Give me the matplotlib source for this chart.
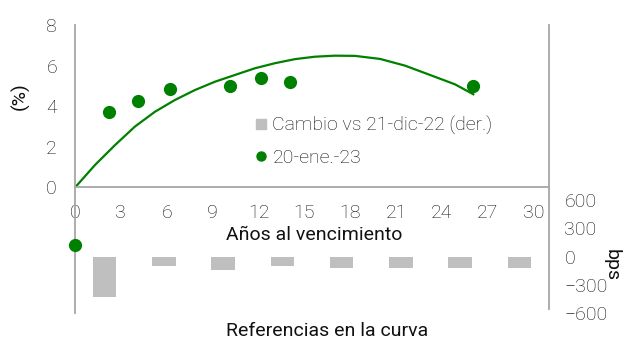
import numpy as np
import matplotlib.pyplot as plt
from matplotlib.lines import Line2D

plt.rcParams['font.family'] = ['Roboto', 'DejaVu Sans']
plt.rcParams['font.weight'] = 'light'
plt.rcParams['font.size'] = 14

green = '#008000'
bar_grey = '#bfbfbf'
axis_grey = '#a6a6a6'
txt = '#111111'

# yields at 20-ene.-23 (years to maturity, %)
mat_years = [2.24, 4.10, 6.21, 10.14, 12.16, 14.08, 26.05]
yields = [3.73, 4.28, 4.85, 5.00, 5.41, 5.20, 5.01]

# fitted curve, read along its path
curve_x = [0, 1.31, 2.62, 3.92, 5.23, 6.54, 7.85, 9.16, 10.46, 11.77, 13.08,
           14.39, 15.70, 17.0, 18.31, 19.95, 21.58, 23.22, 24.85, 26.05]
curve_y = [0, 1.11, 2.09, 3.0, 3.73, 4.31, 4.80, 5.21, 5.54, 5.87, 6.12,
           6.32, 6.44, 6.49, 6.48, 6.33, 6.0, 5.54, 5.08, 4.59]

# change vs 21-dic-22 in bps, one bar per reference bond
change_bps = [-425, -96, -145, -103, -117, -117, -117, -117]
dot_bps = 120

fig = plt.figure(figsize=(6.3, 3.41), dpi=100)
ax = fig.add_axes([75/630, 1-187.5/341, 474/630, 162.5/341])
axb = fig.add_axes([75/630, 1-313/341, 474/630, 125.5/341])

# top panel: curve and dots
ax.plot(curve_x, curve_y, color=green, lw=1.6, zorder=2)
ax.plot(mat_years, yields, 'o', color=green, ms=9.5, mec='none', zorder=3)
ax.set_xlim(0, 31)
ax.set_ylim(0, 8)
ax.set_xticks(np.arange(0, 31, 3))
ax.set_yticks(np.arange(0, 9, 2))
ax.tick_params(length=0, colors=txt, labelsize=14)
ax.tick_params(axis='y', pad=13)
ax.tick_params(axis='x', pad=12)
ax.spines['top'].set_visible(False)
for s in ['left', 'bottom', 'right']:
    ax.spines[s].set_color(axis_grey)
    ax.spines[s].set_linewidth(1.3)
ax.set_xlabel('Años al vencimiento', color=txt)
ax.xaxis.set_label_coords((314-75)/474, -0.24)
ax.set_ylabel('(%)', color=txt)
ax.yaxis.set_label_coords(-45/474, 0.56)

handles = [Line2D([], [], marker='s', color=bar_grey, ls='none', ms=7.5),
           Line2D([], [], marker='o', color=green, ls='none', ms=6.5)]
ax.legend(handles, ['Cambio vs 21-dic-22 (der.)', '20-ene.-23'],
          loc='upper left', bbox_to_anchor=(255/630, 1-116/341),
          bbox_transform=fig.transFigure, frameon=False, handlelength=0.6,
          handletextpad=0.3, labelspacing=0.72, borderpad=0,
          borderaxespad=0, fontsize=14, labelcolor=txt)

# bottom panel: bars on the right-hand bps scale
pos = np.arange(len(change_bps))
axb.bar(pos, change_bps, width=0.4, color=bar_grey, zorder=2)
axb.plot([-0.5], [dot_bps], 'o', color=green, ms=9.5, mec='none',
         clip_on=False, zorder=3)
axb.set_xlim(-0.5, len(change_bps) - 0.5)
axb.set_ylim(-600, 733)
axb.set_xticks([])
axb.yaxis.tick_right()
axb.set_yticks([600, 300, 0, -300, -600])
axb.tick_params(length=0, colors=txt, labelsize=14, pad=11)
axb.patch.set_visible(False)
for s in ['top', 'bottom']:
    axb.spines[s].set_visible(False)
for s in ['left', 'right']:
    axb.spines[s].set_color(axis_grey)
    axb.spines[s].set_linewidth(1.3)
axb.spines['right'].set_bounds(-560, 733)
axb.yaxis.set_label_position('right')
axb.set_ylabel('bps', color=txt, rotation=270)
axb.yaxis.set_label_coords(1 + 72/474, (313-265)/125.5)
axb.set_xlabel('Referencias en la curva', color=txt)
axb.xaxis.set_label_coords((327-75)/474, -0.07)

fig.savefig('out.png', dpi=100)
